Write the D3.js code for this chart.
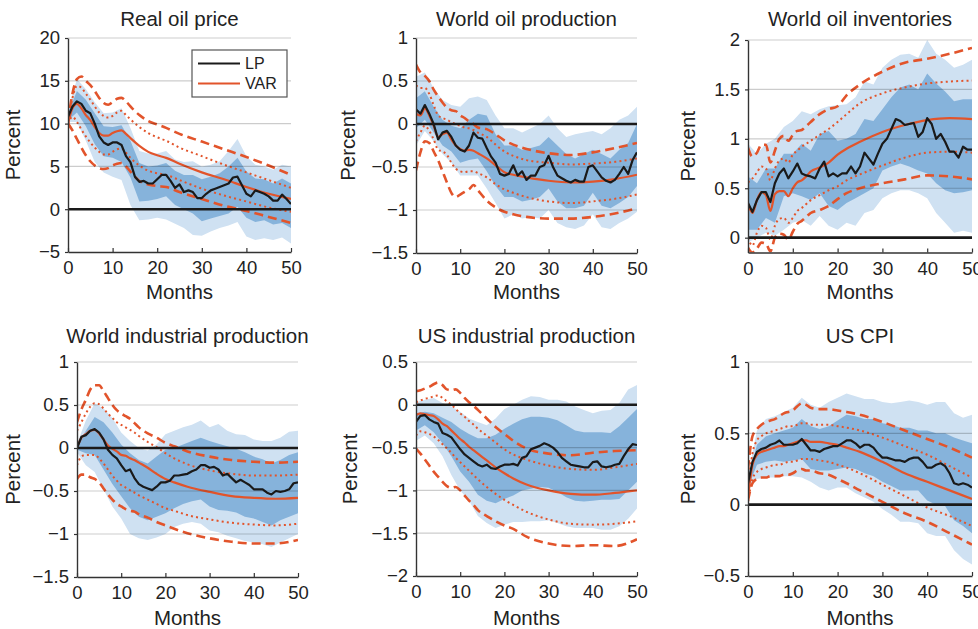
<!DOCTYPE html>
<html>
<head>
<meta charset="utf-8">
<script src="https://cdn.jsdelivr.net/npm/d3@7"></script>
<style>
  body { margin: 0; background: #fff; }
  svg { display: block; }
  text { font-family: "Liberation Sans", Arial, Helvetica, sans-serif; }
</style>
</head>
<body>
<svg id="chart" width="978" height="629"></svg>
<script>
// ---- horizons ----
const lpMonths = [0,1,2,3,4,5,6,7,8,9,10,11,12,13,14,15,16,17,18,19,20,21,22,23,24,25,26,27,28,29,30,31,32,33,34,35,36,37,38,39,40,41,42,43,44,45,46,47,48,49,50];
const bandMonths = [0,2,4,6,8,10,12,14,16,18,20,22,24,26,28,30,32,34,36,38,40,42,44,46,48,50];
const varMonths = [0,1,2,3,4,5,6,7,8,9,10,11,12,13,14,16,18,20,22,25,30,35,40,45,50];
const monthTicks = [0,10,20,30,40,50];

// ---- Real oil price ----
const oilPriceLP = [10.8,12.0,12.6,12.3,11.5,11.2,10.0,8.5,7.8,7.5, 7.8,7.8,7.5,6.2,5.5,3.8,3.2,3.3,3.0,3.0, 3.5,4.0,4.0,3.3,2.5,2.9,2.0,2.2,2.0,1.3, 1.3,1.8,2.2,2.4,2.6,2.8,3.0,3.7,3.8,2.8, 1.8,1.5,2.2,2.0,1.8,1.5,1.0,1.0,1.7,1.2,0.6];
const oilPriceLP90hi = [11.5,15.2,14.0,12.5,11.2,11.3,11.8,9.5,6.8,6.5,6.5,6.8,5.8,5.5,5.6,5.0,5.2,5.6,6.8,8.2,6.2,5.2,5.0,4.6,5.2,5.0];
const oilPriceLP90lo = [10.2,10.2,8.0,5.5,4.3,3.8,3.4,0.5,-1.3,-1.2,-1.0,-1.2,-1.7,-2.2,-3.0,-3.1,-2.6,-2.2,-1.9,-1.5,-3.2,-3.6,-3.4,-3.6,-3.3,-4.0];
const oilPriceLP68hi = [11.2,13.8,12.8,11.2,9.7,9.6,9.8,8.0,5.4,5.0,5.1,5.4,4.5,4.0,4.0,3.5,3.8,4.2,5.0,6.0,4.4,3.6,3.5,3.0,3.6,3.0];
const oilPriceLP68lo = [10.4,11.3,9.7,7.6,6.2,6.0,5.5,3.7,0.9,1.0,1.2,1.5,0.5,0.0,-0.5,-1.4,-1.1,-0.8,-0.5,0.3,-1.0,-1.5,-1.3,-1.8,-1.6,-2.2];
const oilPriceVAR = [10.0,11.8,12.3,11.8,11.0,10.4,9.6,8.9,8.6,8.6,8.9,9.1,9.2,8.8,8.3,7.4,6.7,6.3,6.0,5.3,4.3,3.5,2.6,1.8,1.2];
const oilPriceVAR68hi = [10.0,13.0,14.4,14.2,13.5,12.8,12.0,11.3,10.9,10.7,10.9,11.3,11.5,11.0,10.5,9.6,8.9,8.4,8.0,7.2,6.2,5.2,4.3,3.4,2.5];
const oilPriceVAR68lo = [10.0,10.8,10.2,9.3,8.5,7.8,7.2,6.7,6.4,6.4,6.7,7.0,7.1,6.6,6.0,5.1,4.5,4.2,4.0,3.4,2.4,1.6,0.9,0.2,-0.3];
const oilPriceVAR90hi = [10.2,13.5,15.2,15.5,15.0,14.5,13.8,13.0,12.4,12.2,12.5,12.9,13.0,12.6,12.0,11.0,10.3,9.9,9.5,8.8,7.9,7.0,6.1,5.1,4.0];
const oilPriceVAR90lo = [10.0,9.2,8.2,7.2,6.3,5.6,5.1,4.8,4.7,4.8,5.1,5.3,5.4,5.0,4.4,3.3,2.9,2.7,2.6,2.0,1.2,0.4,-0.2,-0.9,-1.6];

// ---- World oil production ----
const oilProdLP = [0.17,0.12,0.22,0.12,0.0,-0.18,-0.1,-0.08,-0.15,-0.25, -0.3,-0.32,-0.25,-0.1,-0.16,-0.17,-0.28,-0.38,-0.45,-0.58, -0.6,-0.58,-0.48,-0.6,-0.55,-0.65,-0.6,-0.6,-0.5,-0.48, -0.37,-0.5,-0.6,-0.63,-0.66,-0.68,-0.65,-0.67,-0.67,-0.5, -0.48,-0.55,-0.62,-0.66,-0.68,-0.65,-0.58,-0.5,-0.58,-0.42,-0.33];
const oilProdLP90hi = [0.55,0.6,0.42,0.28,0.22,0.2,0.3,0.32,0.28,0.1,-0.05,-0.05,-0.1,-0.05,0.0,0.1,-0.05,-0.15,-0.12,-0.1,-0.08,-0.12,-0.05,0.05,0.1,0.2];
const oilProdLP90lo = [-0.25,-0.08,-0.2,-0.35,-0.45,-0.6,-0.6,-0.6,-0.75,-0.92,-1.1,-1.05,-1.1,-1.08,-1.1,-1.0,-1.15,-1.2,-1.22,-1.18,-1.05,-1.2,-1.22,-1.15,-1.1,-1.02];
const oilProdLP68hi = [0.3,0.38,0.2,0.05,-0.02,-0.05,0.05,0.12,0.1,-0.12,-0.25,-0.25,-0.3,-0.28,-0.25,-0.15,-0.25,-0.35,-0.4,-0.35,-0.3,-0.35,-0.4,-0.3,-0.22,0.0];
const oilProdLP68lo = [-0.05,0.05,-0.1,-0.25,-0.32,-0.45,-0.42,-0.4,-0.55,-0.72,-0.85,-0.85,-0.9,-0.88,-0.85,-0.75,-0.9,-0.98,-0.98,-0.95,-0.8,-0.95,-0.98,-0.92,-0.85,-0.72];
const oilProdVAR = [0.12,0.1,0.18,0.1,-0.02,-0.15,-0.12,-0.1,-0.18,-0.25,-0.29,-0.31,-0.3,-0.31,-0.34,-0.4,-0.48,-0.56,-0.59,-0.62,-0.66,-0.68,-0.67,-0.64,-0.59];
const oilProdVAR68hi = [0.45,0.42,0.42,0.35,0.22,0.1,0.07,0.05,0.02,0.0,-0.02,-0.04,-0.05,-0.07,-0.1,-0.15,-0.24,-0.32,-0.37,-0.42,-0.45,-0.47,-0.46,-0.44,-0.4];
const oilProdVAR68lo = [-0.2,-0.1,-0.02,-0.08,-0.18,-0.3,-0.32,-0.36,-0.45,-0.52,-0.55,-0.56,-0.55,-0.55,-0.57,-0.62,-0.7,-0.76,-0.8,-0.85,-0.9,-0.92,-0.9,-0.87,-0.82];
const oilProdVAR90hi = [0.69,0.6,0.56,0.5,0.4,0.32,0.25,0.19,0.16,0.15,0.1,0.07,0.03,0.0,-0.04,-0.06,-0.12,-0.19,-0.24,-0.29,-0.34,-0.36,-0.33,-0.28,-0.22];
const oilProdVAR90lo = [-0.54,-0.33,-0.2,-0.22,-0.32,-0.42,-0.55,-0.68,-0.8,-0.85,-0.82,-0.79,-0.76,-0.71,-0.77,-0.89,-0.97,-1.02,-1.05,-1.08,-1.1,-1.1,-1.08,-1.04,-0.98];

// ---- World oil inventories ----
const invLP = [0.35,0.26,0.38,0.46,0.46,0.36,0.55,0.65,0.7,0.6, 0.67,0.75,0.65,0.63,0.62,0.6,0.7,0.77,0.62,0.65, 0.62,0.65,0.65,0.72,0.65,0.72,0.86,0.8,0.74,0.85, 0.95,1.0,1.1,1.2,1.18,1.14,1.15,1.16,1.02,1.07, 1.21,1.15,1.0,1.05,0.97,0.87,0.87,0.81,0.92,0.89,0.89];
const invLP90hi = [0.95,0.85,0.95,1.0,1.12,1.18,1.28,1.25,1.3,1.33,1.34,1.35,1.42,1.58,1.55,1.72,1.8,1.85,1.86,1.82,2.0,1.86,1.8,1.72,1.75,1.8];
const invLP90lo = [-0.05,0.0,0.05,0.02,0.08,0.15,0.18,0.12,0.22,0.12,0.08,0.15,0.12,0.25,0.28,0.4,0.45,0.48,0.48,0.45,0.4,0.25,0.15,0.05,0.07,0.05];
const invLP68hi = [0.62,0.55,0.7,0.7,0.85,0.85,0.95,0.88,1.05,1.08,0.98,1.0,1.05,1.2,1.18,1.3,1.42,1.52,1.55,1.5,1.66,1.56,1.48,1.38,1.4,1.4];
const invLP68lo = [0.08,0.08,0.2,0.15,0.42,0.45,0.42,0.38,0.45,0.32,0.28,0.35,0.4,0.45,0.5,0.68,0.72,0.75,0.72,0.68,0.65,0.55,0.48,0.45,0.46,0.48];
const invVAR = [0.34,0.25,0.38,0.46,0.43,0.27,0.44,0.47,0.47,0.42,0.5,0.56,0.58,0.62,0.67,0.71,0.76,0.84,0.9,0.97,1.07,1.14,1.19,1.21,1.2];
const invVAR68hi = [0.56,0.6,0.66,0.72,0.7,0.58,0.7,0.78,0.8,0.76,0.84,0.88,0.92,0.95,0.98,1.04,1.1,1.17,1.25,1.36,1.46,1.52,1.56,1.58,1.59];
const invVAR68lo = [0.0,-0.08,0.05,0.12,0.1,-0.02,0.12,0.19,0.2,0.15,0.2,0.27,0.3,0.34,0.38,0.43,0.48,0.52,0.58,0.64,0.73,0.81,0.86,0.87,0.86];
const invVAR90hi = [0.91,0.82,0.86,0.94,0.94,0.76,0.88,1.0,1.03,0.98,1.04,1.08,1.09,1.13,1.17,1.25,1.3,1.33,1.44,1.55,1.68,1.77,1.81,1.86,1.92];
const invVAR90lo = [-0.1,-0.15,-0.11,-0.05,-0.06,-0.14,0.0,0.04,0.03,-0.02,0.06,0.14,0.17,0.21,0.25,0.28,0.32,0.39,0.45,0.5,0.55,0.59,0.63,0.62,0.59];

// ---- World industrial production ----
const worldIpLP = [0.0,0.13,0.15,0.2,0.22,0.18,0.1,-0.02,-0.08,-0.12, -0.2,-0.27,-0.25,-0.35,-0.42,-0.45,-0.47,-0.49,-0.45,-0.4, -0.4,-0.38,-0.32,-0.32,-0.31,-0.3,-0.27,-0.25,-0.2,-0.2, -0.23,-0.22,-0.25,-0.32,-0.3,-0.35,-0.4,-0.37,-0.4,-0.43, -0.48,-0.48,-0.48,-0.52,-0.54,-0.5,-0.51,-0.5,-0.48,-0.41,-0.4];
const worldIpLP90hi = [0.05,0.32,0.52,0.46,0.35,0.18,0.08,0.0,-0.03,0.04,0.16,0.2,0.24,0.27,0.32,0.24,0.28,0.2,0.16,0.15,0.1,0.08,0.08,0.12,0.19,0.2];
const worldIpLP90lo = [-0.05,-0.2,-0.28,-0.48,-0.68,-0.82,-1.0,-1.05,-1.07,-1.04,-1.0,-0.92,-0.88,-0.86,-0.88,-0.96,-0.98,-1.02,-1.05,-1.08,-1.1,-1.12,-1.15,-1.1,-1.05,-1.0];
const worldIpLP68hi = [0.02,0.2,0.36,0.3,0.18,0.04,-0.06,-0.14,-0.18,-0.1,-0.02,0.0,0.04,0.08,0.12,0.08,0.05,0.02,-0.01,-0.05,-0.1,-0.13,-0.18,-0.14,-0.08,-0.05];
const worldIpLP68lo = [-0.02,-0.06,-0.08,-0.25,-0.42,-0.56,-0.7,-0.8,-0.84,-0.8,-0.76,-0.7,-0.65,-0.62,-0.6,-0.68,-0.72,-0.73,-0.75,-0.8,-0.82,-0.86,-0.9,-0.84,-0.8,-0.76];
const worldIpVAR = [0.0,0.12,0.16,0.2,0.21,0.17,0.1,0.03,-0.01,-0.04,-0.08,-0.09,-0.12,-0.14,-0.17,-0.23,-0.3,-0.36,-0.4,-0.45,-0.51,-0.56,-0.58,-0.59,-0.58];
const worldIpVAR68hi = [0.2,0.3,0.4,0.48,0.52,0.51,0.46,0.4,0.35,0.3,0.27,0.24,0.21,0.18,0.14,0.07,0.01,-0.06,-0.12,-0.19,-0.26,-0.3,-0.32,-0.32,-0.31];
const worldIpVAR68lo = [-0.2,-0.1,-0.08,-0.08,-0.08,-0.12,-0.18,-0.25,-0.32,-0.38,-0.43,-0.46,-0.49,-0.52,-0.55,-0.6,-0.65,-0.7,-0.73,-0.78,-0.83,-0.87,-0.89,-0.9,-0.88];
const worldIpVAR90hi = [0.3,0.45,0.56,0.68,0.73,0.73,0.66,0.58,0.5,0.44,0.4,0.37,0.34,0.29,0.24,0.17,0.12,0.06,0.02,-0.04,-0.1,-0.14,-0.16,-0.17,-0.16];
const worldIpVAR90lo = [-0.36,-0.31,-0.31,-0.34,-0.36,-0.4,-0.47,-0.54,-0.6,-0.65,-0.68,-0.71,-0.73,-0.74,-0.77,-0.81,-0.86,-0.9,-0.94,-0.99,-1.05,-1.09,-1.11,-1.11,-1.07];

// ---- US industrial production ----
const usIpLP = [-0.2,-0.13,-0.12,-0.17,-0.2,-0.22,-0.33,-0.35,-0.38,-0.45, -0.52,-0.58,-0.62,-0.66,-0.7,-0.72,-0.7,-0.74,-0.75,-0.72, -0.7,-0.7,-0.69,-0.71,-0.62,-0.6,-0.52,-0.5,-0.48,-0.45, -0.47,-0.5,-0.55,-0.62,-0.66,-0.7,-0.71,-0.72,-0.73,-0.73, -0.67,-0.66,-0.72,-0.73,-0.72,-0.7,-0.69,-0.6,-0.52,-0.46,-0.47];
const usIpLP90hi = [0.03,0.06,0.08,0.02,-0.02,-0.08,-0.16,-0.2,-0.24,-0.16,-0.05,0.0,0.06,0.1,0.09,0.06,0.06,0.04,-0.02,-0.06,-0.1,-0.07,-0.06,0.02,0.18,0.23];
const usIpLP90lo = [-0.42,-0.36,-0.45,-0.6,-0.82,-1.0,-1.12,-1.3,-1.38,-1.44,-1.4,-1.37,-1.37,-1.36,-1.36,-1.35,-1.38,-1.42,-1.44,-1.44,-1.44,-1.46,-1.46,-1.42,-1.33,-1.21];
const usIpLP68hi = [-0.1,-0.08,-0.1,-0.15,-0.2,-0.28,-0.34,-0.39,-0.39,-0.35,-0.28,-0.22,-0.17,-0.14,-0.14,-0.15,-0.18,-0.24,-0.3,-0.32,-0.32,-0.32,-0.33,-0.25,-0.15,-0.05];
const usIpLP68lo = [-0.3,-0.24,-0.32,-0.45,-0.6,-0.78,-0.9,-1.05,-1.12,-1.15,-1.1,-1.06,-1.0,-0.98,-0.96,-0.97,-1.02,-1.08,-1.12,-1.13,-1.12,-1.11,-1.11,-1.1,-1.0,-0.9];
const usIpVAR = [-0.12,-0.1,-0.11,-0.12,-0.13,-0.17,-0.22,-0.25,-0.3,-0.35,-0.4,-0.44,-0.49,-0.53,-0.57,-0.65,-0.73,-0.8,-0.86,-0.93,-1.0,-1.04,-1.05,-1.03,-1.0];
const usIpVAR68hi = [0.03,0.05,0.07,0.08,0.1,0.11,0.08,0.04,0.0,-0.05,-0.1,-0.14,-0.19,-0.23,-0.28,-0.36,-0.44,-0.52,-0.58,-0.64,-0.71,-0.75,-0.76,-0.73,-0.69];
const usIpVAR68lo = [-0.36,-0.31,-0.32,-0.34,-0.37,-0.41,-0.46,-0.51,-0.56,-0.62,-0.67,-0.72,-0.77,-0.82,-0.87,-0.96,-1.04,-1.11,-1.17,-1.25,-1.34,-1.39,-1.4,-1.39,-1.36];
const usIpVAR90hi = [0.16,0.17,0.19,0.21,0.24,0.26,0.23,0.18,0.17,0.18,0.14,0.08,0.03,-0.01,-0.06,-0.16,-0.26,-0.34,-0.42,-0.51,-0.57,-0.59,-0.56,-0.54,-0.53];
const usIpVAR90lo = [-0.51,-0.57,-0.64,-0.71,-0.78,-0.84,-0.9,-0.95,-0.97,-0.96,-1.0,-1.06,-1.12,-1.17,-1.23,-1.3,-1.36,-1.41,-1.45,-1.54,-1.62,-1.65,-1.64,-1.65,-1.57];

// ---- US CPI ----
const cpiLP = [0.15,0.3,0.37,0.39,0.4,0.42,0.43,0.45,0.42,0.42, 0.42,0.43,0.46,0.42,0.38,0.38,0.37,0.39,0.4,0.41, 0.41,0.43,0.45,0.45,0.43,0.4,0.42,0.42,0.4,0.36, 0.33,0.33,0.32,0.31,0.31,0.3,0.32,0.33,0.33,0.3, 0.26,0.26,0.28,0.29,0.27,0.22,0.15,0.14,0.15,0.14,0.12];
const cpiLP90hi = [0.2,0.52,0.6,0.62,0.65,0.68,0.75,0.7,0.68,0.72,0.75,0.78,0.76,0.74,0.74,0.72,0.71,0.72,0.73,0.72,0.7,0.72,0.72,0.64,0.61,0.63];
const cpiLP90lo = [0.1,0.18,0.19,0.19,0.2,0.2,0.19,0.16,0.12,0.1,0.12,0.12,0.08,0.05,0.02,-0.03,-0.07,-0.12,-0.12,-0.13,-0.2,-0.22,-0.22,-0.32,-0.38,-0.42];
const cpiLP68hi = [0.18,0.42,0.48,0.5,0.52,0.54,0.6,0.55,0.53,0.55,0.59,0.63,0.62,0.6,0.6,0.57,0.56,0.54,0.54,0.52,0.52,0.5,0.5,0.47,0.45,0.43];
const cpiLP68lo = [0.12,0.28,0.3,0.31,0.3,0.31,0.32,0.25,0.24,0.24,0.25,0.26,0.25,0.22,0.2,0.16,0.13,0.1,0.1,0.1,0.03,0.0,-0.01,-0.11,-0.15,-0.2];
const cpiVAR = [0.05,0.28,0.35,0.37,0.38,0.39,0.4,0.41,0.41,0.42,0.43,0.44,0.45,0.45,0.44,0.44,0.43,0.42,0.4,0.37,0.3,0.22,0.16,0.1,0.04];
const cpiVAR68hi = [0.1,0.36,0.45,0.48,0.5,0.51,0.52,0.53,0.54,0.55,0.55,0.56,0.57,0.57,0.56,0.56,0.56,0.55,0.54,0.52,0.47,0.41,0.35,0.27,0.19];
const cpiVAR68lo = [0.02,0.18,0.23,0.25,0.26,0.27,0.28,0.28,0.29,0.3,0.3,0.31,0.32,0.32,0.32,0.31,0.3,0.28,0.26,0.22,0.14,0.06,-0.02,-0.08,-0.15];
const cpiVAR90hi = [0.25,0.48,0.53,0.56,0.58,0.59,0.6,0.62,0.64,0.65,0.66,0.69,0.71,0.7,0.68,0.67,0.67,0.66,0.65,0.63,0.58,0.52,0.46,0.4,0.33];
const cpiVAR90lo = [0.03,0.15,0.18,0.19,0.19,0.2,0.2,0.2,0.21,0.21,0.22,0.24,0.25,0.24,0.24,0.22,0.21,0.18,0.15,0.1,0.02,-0.06,-0.12,-0.2,-0.28];

// ---- panel titles and y ticks ----
const panelTitles = ["Real oil price", "World oil production", "World oil inventories",
                     "World industrial production", "US industrial production", "US CPI"];
const oilPriceTicks = [-5, 0, 5, 10, 15, 20];
const oilProdTicks = [-1.5, -1, -0.5, 0, 0.5, 1];
const invTicks = [0, 0.5, 1, 1.5, 2];
const worldIpTicks = [-1.5, -1, -0.5, 0, 0.5, 1];
const usIpTicks = [-2, -1.5, -1, -0.5, 0, 0.5];
const cpiTicks = [-0.5, 0, 0.5, 1];
const legendLabels = ["LP", "VAR"];

// ---- styling ----
const LIGHT = "#cfe1f2";
const DARK = "#86b3db";
const ORANGE = "#e2542b";
const INK = "#1a1a1a";
const FONT = "'Liberation Sans', Arial, Helvetica, sans-serif";

// Layout: plot rectangles in pixels and y-label baseline positions.
const panels = [
  { title: panelTitles[0], domain: [-5, 20], ticks: oilPriceTicks, left: 68, right: 291, top: 38, bottom: 252, yLabelX: 20, titleY: 26, monthsY: 299,
    lp: oilPriceLP, lp90: [oilPriceLP90lo, oilPriceLP90hi], lp68: [oilPriceLP68lo, oilPriceLP68hi],
    v: oilPriceVAR, v68: [oilPriceVAR68lo, oilPriceVAR68hi], v90: [oilPriceVAR90lo, oilPriceVAR90hi], legend: true },
  { title: panelTitles[1], domain: [-1.5, 1], ticks: oilProdTicks, left: 416, right: 637, top: 38, bottom: 253, yLabelX: 355, titleY: 26, monthsY: 299,
    lp: oilProdLP, lp90: [oilProdLP90lo, oilProdLP90hi], lp68: [oilProdLP68lo, oilProdLP68hi],
    v: oilProdVAR, v68: [oilProdVAR68lo, oilProdVAR68hi], v90: [oilProdVAR90lo, oilProdVAR90hi] },
  { title: panelTitles[2], domain: [-0.15, 2], ticks: invTicks, left: 748, right: 972, top: 40, bottom: 252.5, yLabelX: 695, titleY: 26, monthsY: 299,
    lp: invLP, lp90: [invLP90lo, invLP90hi], lp68: [invLP68lo, invLP68hi],
    v: invVAR, v68: [invVAR68lo, invVAR68hi], v90: [invVAR90lo, invVAR90hi] },
  { title: panelTitles[3], domain: [-1.5, 1], ticks: worldIpTicks, left: 77, right: 298, top: 362, bottom: 577, yLabelX: 20, titleY: 343, monthsY: 625,
    lp: worldIpLP, lp90: [worldIpLP90lo, worldIpLP90hi], lp68: [worldIpLP68lo, worldIpLP68hi],
    v: worldIpVAR, v68: [worldIpVAR68lo, worldIpVAR68hi], v90: [worldIpVAR90lo, worldIpVAR90hi] },
  { title: panelTitles[4], domain: [-2, 0.5], ticks: usIpTicks, left: 416, right: 637, top: 362, bottom: 576, yLabelX: 357, titleY: 343, monthsY: 625,
    lp: usIpLP, lp90: [usIpLP90lo, usIpLP90hi], lp68: [usIpLP68lo, usIpLP68hi],
    v: usIpVAR, v68: [usIpVAR68lo, usIpVAR68hi], v90: [usIpVAR90lo, usIpVAR90hi] },
  { title: panelTitles[5], domain: [-0.5, 1], ticks: cpiTicks, left: 748, right: 972, top: 362, bottom: 576, yLabelX: 695, titleY: 343, monthsY: 625,
    lp: cpiLP, lp90: [cpiLP90lo, cpiLP90hi], lp68: [cpiLP68lo, cpiLP68hi],
    v: cpiVAR, v68: [cpiVAR68lo, cpiVAR68hi], v90: [cpiVAR90lo, cpiVAR90hi] }
];

const fmt = d => String(d).replace("-", "\u2212");
const svg = d3.select("#chart");
const defs = svg.append("defs");

panels.forEach((p, i) => {
  const x = d3.scaleLinear().domain([0, 50]).range([p.left, p.right]);
  const y = d3.scaleLinear().domain(p.domain).range([p.bottom, p.top]);
  const g = svg.append("g");

  defs.append("clipPath").attr("id", "plot-clip-" + i)
    .append("rect")
    .attr("x", p.left).attr("y", p.top)
    .attr("width", p.right - p.left).attr("height", p.bottom - p.top);
  const plot = g.append("g").attr("clip-path", `url(#plot-clip-${i})`);

  // LP confidence bands
  const band = ([lo, hi]) => d3.area()
    .x((d, j) => x(bandMonths[j]))
    .y0((d, j) => y(lo[j]))
    .y1((d, j) => y(hi[j]))(lo);
  plot.append("path").attr("d", band(p.lp90)).attr("fill", LIGHT);
  plot.append("path").attr("d", band(p.lp68)).attr("fill", DARK);

  // horizontal grid
  g.append("g").selectAll("line")
    .data(p.ticks.filter(t => t !== 0 && t !== p.domain[0]))
    .join("line")
    .attr("x1", p.left).attr("x2", p.right)
    .attr("y1", d => y(d)).attr("y2", d => y(d))
    .attr("stroke", "#000").attr("stroke-opacity", 0.2).attr("stroke-width", 1.2);

  // zero line
  g.append("line")
    .attr("x1", p.left).attr("x2", p.right)
    .attr("y1", y(0)).attr("y2", y(0))
    .attr("stroke", INK).attr("stroke-width", 2.6);

  // VAR response and bands
  const varLine = d3.line()
    .x((d, j) => x(varMonths[j]))
    .y(d => y(d))
    .curve(d3.curveMonotoneX);
  p.v90.forEach(s => plot.append("path").attr("d", varLine(s))
    .attr("fill", "none").attr("stroke", ORANGE).attr("stroke-width", 2.6)
    .attr("stroke-dasharray", "9,5"));
  p.v68.forEach(s => plot.append("path").attr("d", varLine(s))
    .attr("fill", "none").attr("stroke", ORANGE).attr("stroke-width", 2)
    .attr("stroke-dasharray", "2,3.2"));
  plot.append("path").attr("d", varLine(p.v))
    .attr("fill", "none").attr("stroke", ORANGE).attr("stroke-width", 2.2);

  // LP response
  const lpLine = d3.line().x((d, j) => x(lpMonths[j])).y(d => y(d));
  plot.append("path").attr("d", lpLine(p.lp))
    .attr("fill", "none").attr("stroke", INK).attr("stroke-width", 2.2)
    .attr("stroke-linejoin", "round");

  // axes
  const yAxis = d3.axisLeft(y).tickValues(p.ticks).tickSizeInner(3).tickSizeOuter(0)
    .tickPadding(5).tickFormat(fmt);
  const yg = g.append("g").attr("transform", `translate(${p.left},0)`).call(yAxis);
  const xAxis = d3.axisBottom(x).tickValues(monthTicks).tickSizeInner(-4).tickSizeOuter(0)
    .tickPadding(9).tickFormat(fmt);
  const xg = g.append("g").attr("transform", `translate(0,${p.bottom})`).call(xAxis);
  [yg, xg].forEach(a => {
    a.attr("font-family", FONT).attr("font-size", 18.5).attr("color", "#333");
    a.select(".domain").attr("stroke-width", 1.4);
    a.selectAll(".tick line").attr("stroke-width", 1.2);
    a.selectAll(".tick text").attr("fill", "#222");
  });

  // titles and axis labels
  const cx = (p.left + p.right) / 2;
  g.append("text").attr("x", cx).attr("y", p.titleY).attr("text-anchor", "middle")
    .attr("font-size", 20.5).attr("fill", "#222").text(p.title);
  g.append("text").attr("x", cx).attr("y", p.monthsY).attr("text-anchor", "middle")
    .attr("font-size", 20.5).attr("fill", "#222").text("Months");
  g.append("text")
    .attr("transform", `translate(${p.yLabelX},${(p.top + p.bottom) / 2}) rotate(-90)`)
    .attr("text-anchor", "middle").attr("font-size", 20.5).attr("fill", "#222").text("Percent");

  // legend
  if (p.legend) {
    const lg = g.append("g").attr("transform", "translate(192,50)");
    lg.append("rect").attr("width", 95).attr("height", 47)
      .attr("fill", "#fff").attr("stroke", "#555").attr("stroke-width", 1.2);
    const colors = [INK, ORANGE];
    legendLabels.forEach((lab, k) => {
      const yy = 13.5 + k * 20;
      lg.append("line").attr("x1", 6).attr("x2", 48).attr("y1", yy).attr("y2", yy)
        .attr("stroke", colors[k]).attr("stroke-width", 2);
      lg.append("text").attr("x", 53).attr("y", yy + 5.8)
        .attr("font-size", 16).attr("fill", "#222").text(lab);
    });
  }
});
</script>
</body>
</html>
